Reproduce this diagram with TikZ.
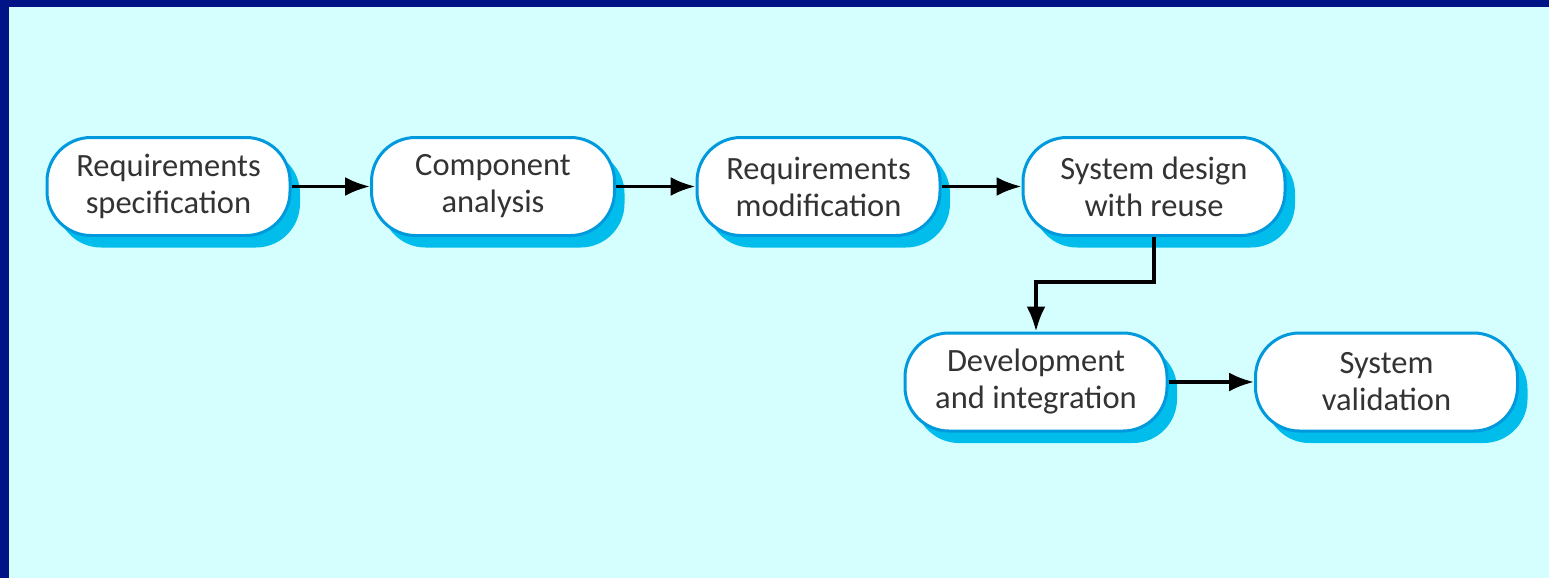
\documentclass[tikz,border=0pt]{standalone}
\usepackage{fontspec}
\setmainfont{Carlito}
\usetikzlibrary{arrows.meta,shadows}
\definecolor{navy}{HTML}{001487}
\definecolor{bgcyan}{HTML}{D5FFFF}
\definecolor{edgeblue}{HTML}{0099DD}
\definecolor{shadowcyan}{HTML}{00BDEC}
\definecolor{txtgray}{HTML}{333333}
\tikzset{
  proc/.style={draw=edgeblue, line width=3pt, fill=white, rounded corners=44pt,
    minimum height=98pt, align=center, text=txtgray, inner xsep=4pt,
    font=\fontsize{32.5}{37}\selectfont,
    general shadow={fill=shadowcyan, draw=none, shadow xshift=10pt, shadow yshift=-12pt}},
  arr/.style={line width=3.5pt, -{Latex[length=25pt,width=19pt]}},
}
\begin{document}
\begin{tikzpicture}[x=1pt,y=-1pt]
\useasboundingbox (0,0) rectangle (1549,578);
\fill[bgcyan] (0,0) rectangle (1549,578);
\fill[navy] (0,0) rectangle (1549,7);
\fill[navy] (0,0) rectangle (9,578);
\node[proc, minimum width=243pt] (n1) at (168.5,186.5) {Requirements\\specification};
\node[proc, minimum width=243pt] (n2) at (493,186.5) {Component\\analysis};
\node[proc, minimum width=243pt] (n3) at (818.5,186.5) {Requirements\\modification};
\node[proc, minimum width=262pt] (n4) at (1154,186.5) {System design\\with reuse};
\node[proc, minimum width=262pt] (n5) at (1036,382) {Development\\and integration};
\node[proc, minimum width=262pt] (n6) at (1386.5,382) {System\\validation};
\coordinate (k) at (0,282);
\draw[arr] (n1) -- (n2);
\draw[arr] (n2) -- (n3);
\draw[arr] (n3) -- (n4);
\draw[arr] (n4.south) -- (n4.south |- k) -| (n5.north);
\draw[arr] (n5) -- (n6);
\end{tikzpicture}
\end{document}
